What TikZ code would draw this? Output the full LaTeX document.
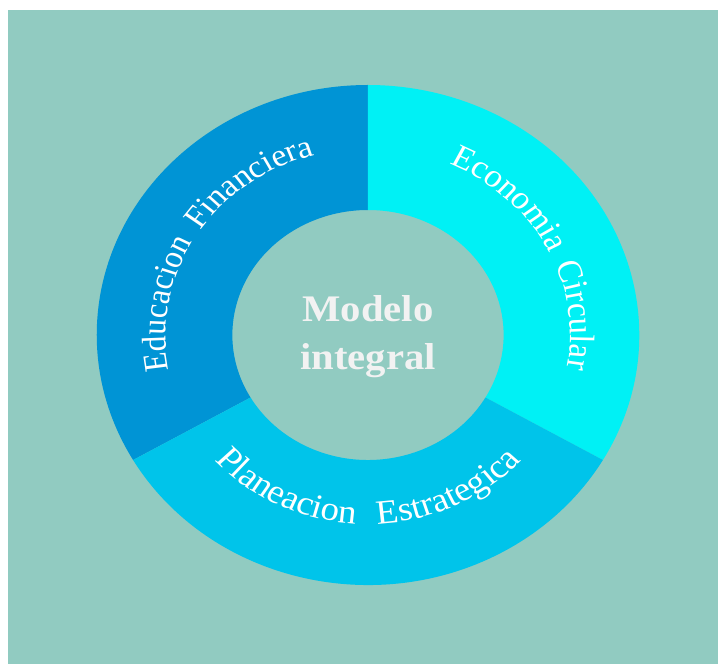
\documentclass[tikz,border=0pt]{standalone}
\usepackage{fontspec}
\setmainfont{Liberation Serif}
\usetikzlibrary{decorations.text}
\definecolor{bgteal}{HTML}{91CBC1}
\definecolor{segA}{HTML}{0094D5}
\definecolor{segB}{HTML}{00F1F5}
\definecolor{segC}{HTML}{00C4EA}
\definecolor{ctext}{HTML}{F2F2F2}
\tikzset{
  segfill/.style={draw=none},
  ringtext/.style={decorate, decoration={text along path, text align=center}},
  centertext/.style={align=center, text=ctext, font=\bfseries\fontsize{37.5}{48}\selectfont, inner sep=0pt}
}
\begin{document}
\begin{tikzpicture}[x=1pt,y=1pt]
\useasboundingbox (-368,-329) rectangle (350,335);
\fill[white] (-368,-329) rectangle (350,335);
\fill[bgteal] (-360,-329) rectangle (350,325);
\begin{scope}[transform canvas={xscale=1.085}]
  \fill[segfill, segA] (90:250) arc[start angle=90,end angle=210,radius=250] -- (210:125) arc[start angle=210,end angle=90,radius=125] -- cycle;
  \fill[segfill, segB] (-30:250) arc[start angle=-30,end angle=90,radius=250] -- (90:125) arc[start angle=90,end angle=-30,radius=125] -- cycle;
  \fill[segfill, segC] (210:250) arc[start angle=210,end angle=330,radius=250] -- (330:125) arc[start angle=330,end angle=210,radius=125] -- cycle;
  \path[ringtext, decoration={text={|\color{white}\fontsize{31.5}{31.5}\selectfont|Educacion{\kern13pt}Financiera}}]
    (208:186.5) arc[start angle=208,end angle=88,radius=186.5];
  \path[ringtext, decoration={text={|\color{white}\fontsize{32.5}{32.5}\selectfont|Economia{\kern12pt}Circular}}]
    (88:186.5) arc[start angle=88,end angle=-32,radius=186.5];
  \path[ringtext, decoration={text={|\color{white}\fontsize{34}{34}\selectfont|Planeacion{\kern20pt}Estrategica}}]
    (210:189) arc[start angle=210,end angle=330,radius=189];
  \node[centertext] (center) at (0,-2) {Modelo\\integral};
\end{scope}
\end{tikzpicture}
\end{document}
